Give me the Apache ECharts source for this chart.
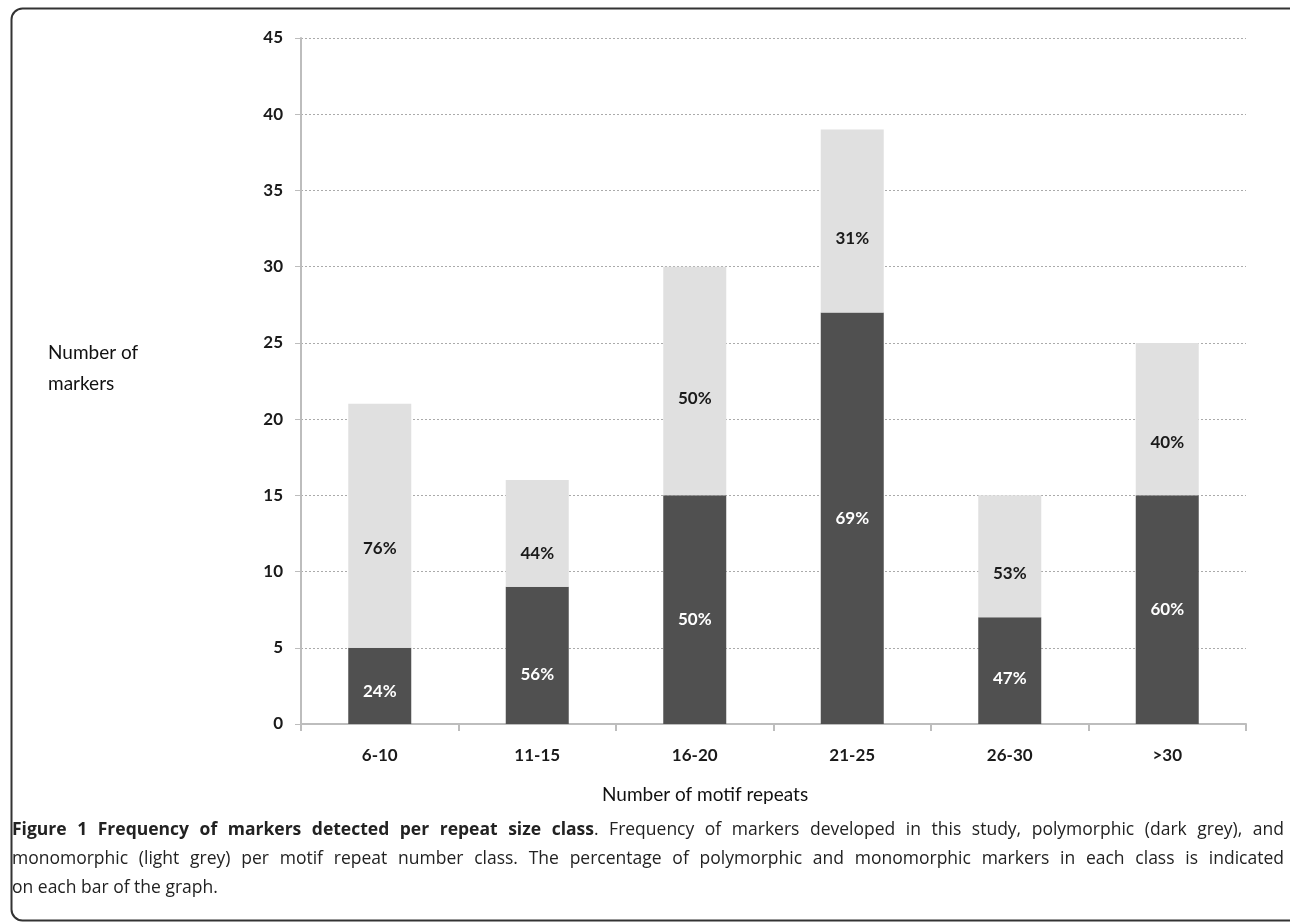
<!DOCTYPE html>
<html>
<head>
<meta charset="utf-8">
<script src="https://cdn.jsdelivr.net/npm/echarts@6/dist/echarts.min.js"></script>
<style>
  html, body { margin:0; padding:0; background:#fff; }
  #chart { width:1290px; height:922px; position:absolute; left:0; top:0; }
  #caption { position:absolute; left:12px; top:814px; width:1272px; font-family:"Open Sans", sans-serif; font-size:17.5px; line-height:29px; color:#222; }
  #caption div { white-space:nowrap; text-align:justify; text-align-last:justify; }
  #caption div.last { text-align-last:left; }
</style>
</head>
<body>
<div id="chart"></div>
<div id="caption">
  <div><b>Figure 1 Frequency of markers detected per repeat size class</b>. Frequency of markers developed in this study, polymorphic (dark grey), and</div>
  <div>monomorphic (light grey) per motif repeat number class. The percentage of polymorphic and monomorphic markers in each class is indicated</div>
  <div class="last">on each bar of the graph.</div>
</div>
<script>
const categories = ['6-10', '11-15', '16-20', '21-25', '26-30', '>30'];
const polymorphic = [5, 9, 15, 27, 7, 15];
const monomorphic = [16, 7, 15, 12, 8, 10];
const polymorphicPct = [24, 56, 50, 69, 47, 60];
const monomorphicPct = [76, 44, 50, 31, 53, 40];
const yTicks = [0, 5, 10, 15, 20, 25, 30, 35, 40, 45];

// label placement tweaks (pixels), style only
const polyLabelDy = [6, 19, 10, 0, 8, 0];
const monoLabelDy = [23, 20, 18, 18, 17, 23];

const FONT = 'Lato, "Open Sans", sans-serif';

function items(vals, pcts, dys) {
  return vals.map((v, i) => ({
    value: v,
    label: { offset: [0, dys[i]], formatter: pcts[i] + '%' }
  }));
}

const chart = echarts.init(document.getElementById('chart'), null, { renderer: 'canvas' });
chart.setOption({
  animation: false,
  backgroundColor: '#fff',
  grid: { left: 301, right: 44, top: 38, bottom: 198, containLabel: false },
  xAxis: {
    type: 'category',
    data: categories,
    boundaryGap: true,
    axisLine: { show: true, lineStyle: { color: '#bdbdbd', width: 2 } },
    axisTick: { show: true, alignWithLabel: false, length: 7, lineStyle: { color: '#bdbdbd', width: 2 } },
    axisLabel: { margin: 23, fontFamily: FONT, fontWeight: 'bold', fontSize: 17, color: '#1a1a1a' },
    splitLine: { show: false }
  },
  yAxis: {
    type: 'value',
    min: yTicks[0],
    max: yTicks[yTicks.length - 1],
    interval: 5,
    axisLine: { show: true, lineStyle: { color: '#bdbdbd', width: 2 } },
    axisTick: { show: true, length: 6, lineStyle: { color: '#bdbdbd', width: 1 } },
    axisLabel: { margin: 18, fontFamily: FONT, fontWeight: 'bold', fontSize: 17, color: '#1a1a1a' },
    splitLine: { show: true, lineStyle: { color: '#aaaaaa', width: 1, type: [2, 2] } }
  },
  series: [
    {
      name: 'Polymorphic',
      type: 'bar',
      stack: 'total',
      barWidth: 63,
      itemStyle: { color: '#505050' },
      label: { show: true, position: 'inside', color: '#ffffff', fontFamily: FONT, fontWeight: 'bold', fontSize: 17 },
      data: items(polymorphic, polymorphicPct, polyLabelDy)
    },
    {
      name: 'Monomorphic',
      type: 'bar',
      stack: 'total',
      barWidth: 63,
      itemStyle: { color: '#e0e0e0' },
      label: { show: true, position: 'inside', color: '#1a1a1a', fontFamily: FONT, fontWeight: 'bold', fontSize: 17 },
      data: items(monomorphic, monomorphicPct, monoLabelDy)
    }
  ],
  graphic: [
    {
      type: 'rect', left: 9, top: 6, z: 0, silent: true,
      shape: { x: 0, y: 0, width: 1310, height: 912, r: 11 },
      style: { fill: 'none', stroke: '#333', lineWidth: 2 }
    },
    {
      type: 'text', left: 48, top: 337,
      style: { text: 'Number of\nmarkers', fontFamily: FONT, fontSize: 19, lineHeight: 31, fill: '#111' }
    },
    {
      type: 'text', left: 602, top: 785,
      style: { text: 'Number of motif repeats', fontFamily: FONT, fontSize: 19, fill: '#111' }
    }
  ]
});
</script>
</body>
</html>
